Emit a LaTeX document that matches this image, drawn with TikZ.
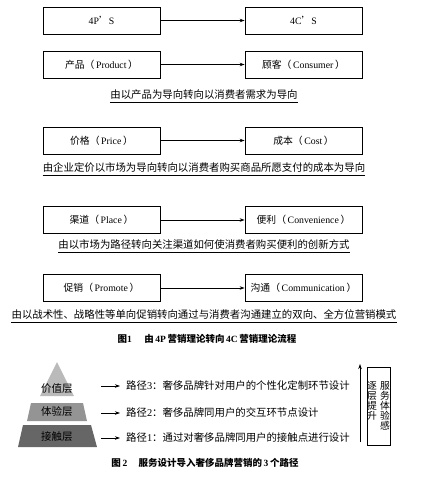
\documentclass[tikz,border=0pt]{standalone}
\usepackage{fontspec}
\setmainfont{Liberation Serif}
\newfontfamily\cjk{Noto Sans CJK SC}
\usetikzlibrary{arrows.meta}

% 中文名称加英文括注
\newcommand\duo[2]{#1（\,{\rmfamily #2}\,）}

\begin{document}
\begin{tikzpicture}[
        x=1pt, y=-1pt,
        font=\cjk\fontsize{10.4}{12}\selectfont,
        flow box/.style={draw, line width=0.8pt, minimum width=117pt, minimum height=27pt, inner sep=0pt, font=\cjk\fontsize{9.8}{11}\selectfont},
        flow arrow/.style={-{Stealth[length=5pt,width=3.5pt]}, line width=0.7pt},
        note text/.style={inner sep=0pt},
        under line/.style={line width=0.6pt},
        caption text/.style={inner sep=0pt, font=\cjk\bfseries\fontsize{9.5}{11}\selectfont},
        path text/.style={anchor=west, inner sep=0pt},
        level label/.style={inner sep=0pt, font=\cjk\fontsize{10.5}{12}\selectfont},
        column text/.style={anchor=north, align=center, inner sep=0pt, font=\cjk\fontsize{9.8}{10.2}\selectfont},
    ]
    \useasboundingbox (0,0) rectangle (437,477);

    % 图1：4P 与 4C 的对应方框
    \foreach \lft/\rgt/\yy [count=\i] in {
        {{\rmfamily 4P}’{\rmfamily S}}/{{\rmfamily 4C}’{\rmfamily S}}/20.5,
        {\duo{产品}{Product}}/{\duo{顾客}{Consumer}}/64.5,
        {\duo{价格}{Price}}/{\duo{成本}{Cost}}/140.5,
        {\duo{渠道}{Place}}/{\duo{便利}{Convenience}}/220,
        {\duo{促销}{Promote}}/{\duo{沟通}{Communication}}/288
    }{
        \node[flow box] (old-\i) at (101.5,\yy) {\lft};
        \node[flow box] (new-\i) at (303.5,\yy) {\rgt};
        \draw[flow arrow] (old-\i) -- (new-\i);
    }

    % 每组下方的说明文字及下划线
    \foreach \txt/\yy [count=\i from 2] in {
        由以产品为导向转向以消费者需求为导向/95,
        由企业定价以市场为导向转向以消费者购买商品所愿支付的成本为导向/168,
        由以市场为路径转向关注渠道如何使消费者购买便利的创新方式/245,
        由以战术性、战略性等单向促销转向通过与消费者沟通建立的双向、全方位营销模式/315
    }{
        \node[note text] (note-\i) at (204,\yy) {\txt};
        \draw[under line] ([yshift=-2pt]note-\i.south west) -- ([yshift=-2pt]note-\i.south east);
    }

    \node[caption text] (cap-1) at (207,339) {图{\rmfamily 1}\hspace{1.3em}由\,{\rmfamily 4P}\,营销理论转向\,{\rmfamily 4C}\,营销理论流程};

    % 图2：三层金字塔
    \fill[black!27] (57,362) -- (74,396) -- (40,396) -- cycle;
    \fill[black!42] (31,403) -- (83,403) -- (87,421) -- (27,421) -- cycle;
    \fill[black!60] (23,425) -- (91,425) -- (97,447) -- (18,447) -- cycle;
    \node[level label] (level-3) at (57,389) {价值层};
    \node[level label] (level-2) at (57,412) {体验层};
    \node[level label] (level-1) at (57,437) {接触层};

    % 三个路径
    \foreach \txt/\yy [count=\i] in {
        {路径{\rmfamily 1}：通过对奢侈品牌同用户的接触点进行设计}/438,
        {路径{\rmfamily 2}：奢侈品牌同用户的交互环节点设计}/413,
        {路径{\rmfamily 3}：奢侈品牌针对用户的个性化定制环节设计}/386
    }{
        \coordinate (tail-\i) at (101,\yy);
        \node[path text] (path-\i) at (126,\yy) {\txt};
        \draw[flow arrow] (tail-\i) -- ([xshift=-6pt]path-\i.west);
    }

    % 逐层提升箭头与竖排方框
    \coordinate (rise-start) at (360,442);
    \coordinate (rise-end) at (360,364);
    \draw[flow arrow] (rise-start) -- (rise-end);
    \node[draw, line width=0.8pt, minimum width=23pt, minimum height=78pt, inner sep=0pt] (sense-box) at (378.5,406) {};
    \node[column text] (col-a) at (372,381) {逐\\层\\提\\升};
    \node[column text] (col-b) at (385,381) {服\\务\\体\\验\\感};

    \node[caption text] (cap-2) at (205,463) {图\,{\rmfamily 2}\hspace{1.2em}服务设计导入奢侈品牌营销的\,{\rmfamily 3}\,个路径};

\end{tikzpicture}
\end{document}
